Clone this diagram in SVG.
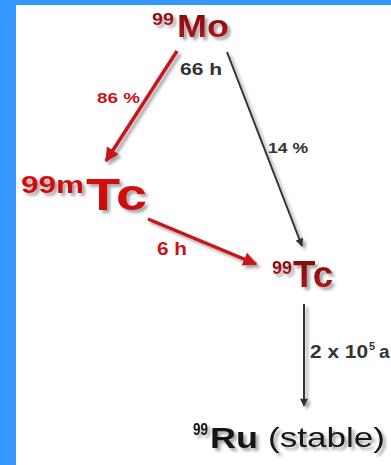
<svg xmlns="http://www.w3.org/2000/svg" width="391" height="465" viewBox="0 0 391 465">
<defs>
<style>
.b{font-family:"Liberation Sans",Arial,sans-serif;font-weight:bold}
.r{font-family:"Liberation Sans",Arial,sans-serif}
.dr{fill:url(#gdr)}
.br{fill:url(#gbr)}
.lbr{fill:#c8141a}
.gy{fill:#333333}
.bk{fill:#141414}
.redl{stroke:#c8141a;stroke-width:3.5;fill:none}
.blkl{stroke:#333333;stroke-width:2;fill:none}
</style>
<linearGradient id="gdr" x1="0" y1="0" x2="0" y2="1">
<stop offset="0" stop-color="#7a0508"/>
<stop offset="1" stop-color="#b81a1f"/>
</linearGradient>
<linearGradient id="gbr" x1="0" y1="0" x2="0" y2="1">
<stop offset="0" stop-color="#e00a0a"/>
<stop offset="1" stop-color="#c00a0a"/>
</linearGradient>
<filter id="sh" x="-20%" y="-20%" width="150%" height="160%">
<feDropShadow dx="3" dy="3" stdDeviation="1.6" flood-color="#000" flood-opacity="0.35"/>
</filter>
<marker id="ar" viewBox="0 0 10 10" refX="9" refY="5" markerWidth="5" markerHeight="4" orient="auto" markerUnits="strokeWidth">
<path d="M0,0 L10,5 L0,10 Z" fill="#c8141a"/>
</marker>
<marker id="ab" viewBox="0 0 10 10" refX="9" refY="5" markerWidth="5" markerHeight="4" orient="auto" markerUnits="strokeWidth">
<path d="M0,0 L10,5 L0,10 Z" fill="#333333"/>
</marker>
</defs>
<rect x="0" y="0" width="391" height="465" fill="#3399ff"/>
<rect x="16" y="5" width="375" height="460" fill="#ffffff"/>
<g id="connectors" filter="url(#sh)">
<line class="redl" x1="177" y1="51" x2="106" y2="161" marker-end="url(#ar)"/>
<line class="blkl" x1="227" y1="52" x2="302" y2="246" marker-end="url(#ab)"/>
<line class="redl" x1="148" y1="219" x2="256" y2="264" marker-end="url(#ar)"/>
<line class="blkl" x1="304" y1="304" x2="304" y2="406" marker-end="url(#ab)"/>
</g>
<g id="labels">
<text class="b gy" x="180" y="75" font-size="17" textLength="42" lengthAdjust="spacingAndGlyphs">66 h</text>
<text class="b lbr" x="97" y="103" font-size="15" textLength="43" lengthAdjust="spacingAndGlyphs">86 %</text>
<text class="b gy" x="268" y="153" font-size="15" textLength="40" lengthAdjust="spacingAndGlyphs">14 %</text>
<text class="b lbr" x="157" y="255" font-size="18" textLength="30" lengthAdjust="spacingAndGlyphs">6 h</text>
<text class="b gy" x="310" y="358" font-size="19"><tspan textLength="58" lengthAdjust="spacingAndGlyphs">2 x 10</tspan><tspan x="369" y="350" font-size="11">5</tspan><tspan x="379" y="358">a</tspan></text>
</g>
<g id="mo99" filter="url(#sh)">
<text class="b dr" x="152" y="25" font-size="17" textLength="22" lengthAdjust="spacingAndGlyphs">99</text>
<text class="b dr" x="177" y="37" font-size="32" textLength="52" lengthAdjust="spacingAndGlyphs">Mo</text>
</g>
<g id="tc99m" filter="url(#sh)">
<text class="b br" x="21" y="193" font-size="24" textLength="63" lengthAdjust="spacingAndGlyphs">99m</text>
<text class="b br" x="86" y="210" font-size="44" textLength="61" lengthAdjust="spacingAndGlyphs">Tc</text>
</g>
<g id="tc99" filter="url(#sh)">
<text class="b dr" x="272" y="274" font-size="18" textLength="20" lengthAdjust="spacingAndGlyphs">99</text>
<text class="b dr" x="293" y="287" font-size="37" textLength="40" lengthAdjust="spacingAndGlyphs">Tc</text>
</g>
<g id="ru99" filter="url(#sh)">
<text class="b bk" x="193" y="435" font-size="16" textLength="15" lengthAdjust="spacingAndGlyphs">99</text>
<text class="b bk" x="210" y="448" font-size="29" textLength="48" lengthAdjust="spacingAndGlyphs">Ru</text>
<text class="r bk" x="268" y="447" font-size="28" textLength="117" lengthAdjust="spacingAndGlyphs">(stable)</text>
</g>
</svg>
